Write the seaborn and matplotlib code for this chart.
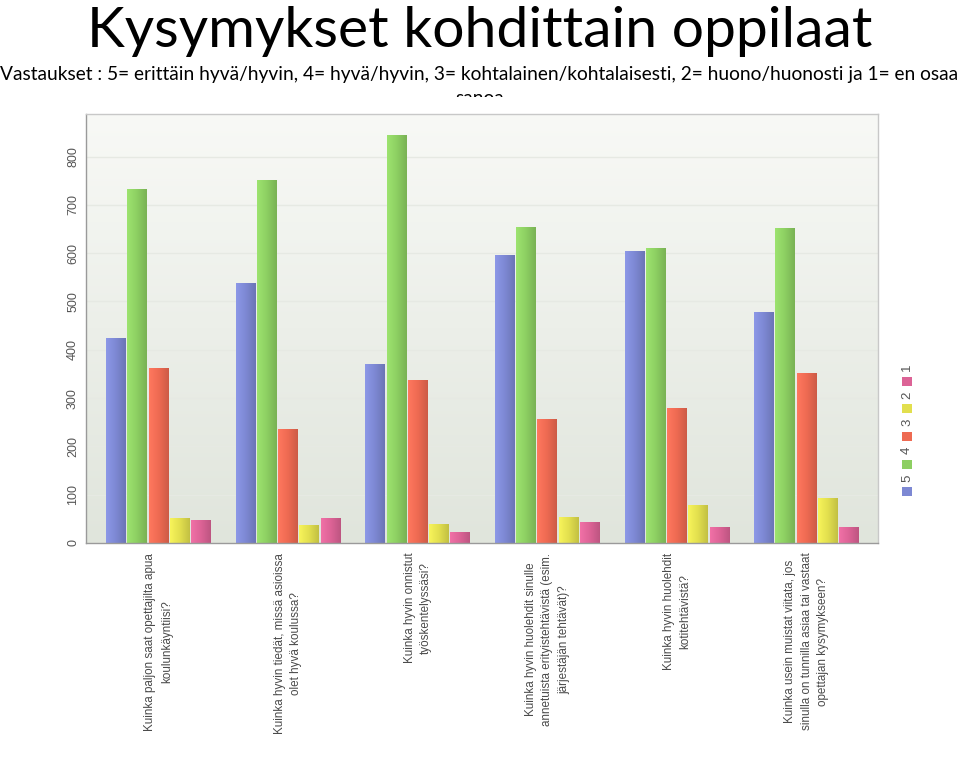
import numpy as np
import pandas as pd
import matplotlib
matplotlib.use("Agg")
import matplotlib.pyplot as plt
import seaborn as sns
from matplotlib.patches import Rectangle
from matplotlib.colors import LinearSegmentedColormap, to_rgb
from matplotlib.transforms import Bbox

# Kysymykset (x-akseli)
questions = [
    "Kuinka paljon saat opettajilta apua\nkoulunkäyntiisi?",
    "Kuinka hyvin tiedät, missä asioissa\nolet hyvä koulussa?",
    "Kuinka hyvin onnistut\ntyöskentelyssäsi?",
    "Kuinka hyvin huolehdit sinulle\nannetuista erityistehtävistä (esim.\njärjestäjän tehtävät)?",
    "Kuinka hyvin huolehdit\nkotitehtävistä?",
    "Kuinka usein muistat viitata, jos\nsinulla on tunnilla asiaa tai vastaat\nopettajan kysymykseen?",
]

# Vastausten lukumäärät
rating_5 = [425, 538, 371, 597, 605, 479]
rating_4 = [732, 752, 844, 654, 611, 652]
rating_3 = [362, 236, 337, 257, 279, 352]
rating_2 = [52, 37, 39, 54, 78, 94]
rating_1 = [47, 51, 23, 44, 33, 33]

ratings = ["5", "4", "3", "2", "1"]
colors = ["#7d88d3", "#8dcf62", "#ee6a52", "#e2df4e", "#dc6396"]

title = "Kysymykset kohdittain oppilaat"
subtitle = ("Vastaukset : 5= erittäin hyvä/hyvin, 4= hyvä/hyvin, 3= kohtalainen/kohtalaisesti, "
            "2= huono/huonosti ja 1= en osaa")

sns.set_theme(style="white")
plt.rcParams["font.family"] = ["Liberation Sans", "DejaVu Sans"]

rows = []
for r, vals in zip(ratings, [rating_5, rating_4, rating_3, rating_2, rating_1]):
    for q, v in zip(questions, vals):
        rows.append({"kysymys": q, "vastaus": r, "lkm": v})
df = pd.DataFrame(rows)

W, H = 959, 762
fig = plt.figure(figsize=(W / 100, H / 100), dpi=100)
fig.patch.set_facecolor("white")


def px(x, y):
    return x / W, 1 - y / H


ax = fig.add_axes([86 / W, 1 - 543 / H, 792 / W, 429 / H])

# taustan liukuväri
bg = LinearSegmentedColormap.from_list("bg", ["#f8f9f6", "#e0e5dc"])
ax.imshow(np.linspace(0, 1, 256).reshape(-1, 1), cmap=bg, aspect="auto",
          extent=[0, 1, 0, 1], transform=ax.transAxes, zorder=0)

sns.barplot(data=df, x="kysymys", y="lkm", hue="vastaus", hue_order=ratings,
            palette=colors, saturation=1, width=0.82, gap=0.06, errorbar=None,
            legend=False, edgecolor="none", zorder=2, ax=ax)

ax.set_xlim(-0.56, 5.55)
ax.set_ylim(0, 888)

# palkkeihin vaakasuora liukuväri (vasen vaalea, oikea tumma)
ramp = np.linspace(0, 1, 64).reshape(1, -1)
for bar in list(ax.patches):
    base = np.array(to_rgb(bar.get_facecolor()))
    light = np.clip(base * 1.06 + 0.03, 0, 1)
    dark = base * 0.86
    cmap = LinearSegmentedColormap.from_list("b", [light, base, dark])
    x0, w, h = bar.get_x(), bar.get_width(), bar.get_height()
    im = ax.imshow(ramp, cmap=cmap, aspect="auto", extent=[x0, x0 + w, 0, h],
                   zorder=2.5, interpolation="bilinear")
    im.set_clip_path(bar)

ax.set_xlim(-0.56, 5.55)
ax.set_ylim(0, 888)
ax.set_xlabel("")
ax.set_ylabel("")
ax.yaxis.grid(True, color="#e6e9e3", linewidth=1, zorder=1)
ax.set_axisbelow(True)

ax.set_yticks(range(0, 900, 100))
ax.set_yticklabels([str(v) for v in range(0, 900, 100)], rotation=90, va="center",
                   fontsize=9, color="#555555")
ax.set_xticks(range(len(questions)))
ax.set_xticklabels(questions, rotation=90, va="top", ha="center", multialignment="center",
                   fontsize=8.4, color="#4a4a4a", linespacing=1.5)
ax.tick_params(axis="y", length=0, pad=5)
ax.tick_params(axis="x", length=0, pad=7)

for side, sp in ax.spines.items():
    sp.set_visible(True)
    sp.set_linewidth(1)
    sp.set_color("#9a9a9a" if side in ("left", "bottom") else "#c8c8c8")

# pystysuuntainen selite oikealla
for i, (r, c) in enumerate(zip(ratings, colors)):
    cy = 492 - i * 27.7
    x0, y0 = px(902, cy + 4.5)
    fig.add_artist(Rectangle((x0, y0), 10 / W, 9 / H, transform=fig.transFigure,
                             facecolor=c, edgecolor="none"))
    tx, ty = px(907, cy - 14)
    fig.text(tx, ty, r, rotation=90, ha="center", va="center", fontsize=9.5, color="#555555")

# otsikot
t_title = fig.text(0.5, 1 - 47 / H, title, ha="center", va="baseline",
                   fontsize=44, family=["Lato", "DejaVu Sans"], color="black")
t_sub = fig.text(0.5, 1 - 80 / H, subtitle, ha="center", va="baseline",
                 fontsize=13, family=["Lato", "DejaVu Sans"], color="black")

# sovitetaan leveydet
renderer = fig.canvas.get_renderer()
for t, target in ((t_title, 785), (t_sub, 955)):
    w = t.get_window_extent(renderer).width
    t.set_fontsize(t.get_fontsize() * target / w)

t_sanoa = fig.text(0.5, 1 - 104 / H, "sanoa", ha="center", va="baseline",
                   fontsize=t_sub.get_fontsize(), family=["Lato", "DejaVu Sans"], color="black")
t_sanoa.set_clip_box(Bbox.from_extents(0, H - 97, W, H))
t_sanoa.set_clip_on(True)

fig.savefig("out.png", dpi=100)
